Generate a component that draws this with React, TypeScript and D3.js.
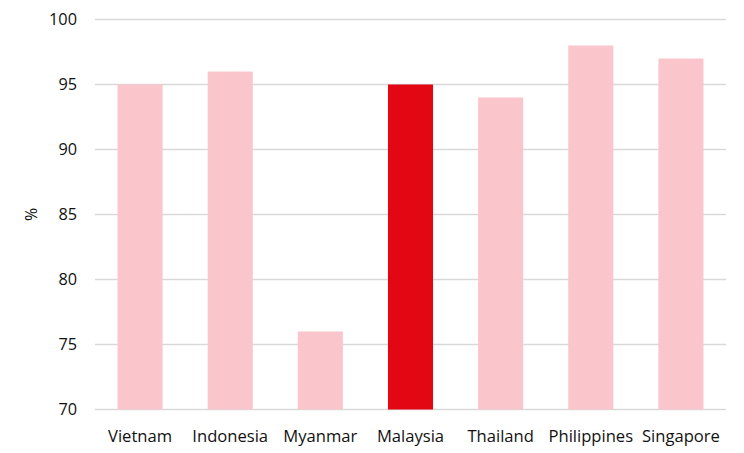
import React from "react";
import * as d3 from "d3";

const categories = ["Vietnam", "Indonesia", "Myanmar", "Malaysia", "Thailand", "Philippines", "Singapore"];
const values = [95, 96, 76, 95, 94, 98, 97];
const highlight = ["Malaysia"];
const yTicks = [70, 75, 80, 85, 90, 95, 100];
const yLabel = "%";

export default function App() {
  const W = 744, H = 453;
  const left = 95, right = 726, top = 19.5, bottom = 409.5;
  const x = d3.scaleBand<string>().domain(categories).range([left, right]).paddingInner(0.5).paddingOuter(0.25);
  const y = d3.scaleLinear().domain([70, 100]).range([bottom, top]);
  const font = "'Open Sans', 'Noto Sans', sans-serif";
  return (
    <svg width={W} height={H} style={{ position: "absolute", left: 0, top: 0, background: "#fff" }}>
      {yTicks.map((t) => (
        <g key={t}>
          <line x1={left} x2={right} y1={y(t)} y2={y(t)} stroke="#d9d9d9" strokeWidth={1.3} />
          <text x={77} y={y(t)} dy="0.36em" textAnchor="end" fontFamily={font} fontSize={16.3} fill="#111">{t}</text>
        </g>
      ))}
      {categories.map((c, i) => (
        <rect key={c} x={x(c)} width={x.bandwidth()} y={y(values[i])} height={y(70) - y(values[i])}
          fill={highlight.includes(c) ? "#E30613" : "#FAC6CB"} />
      ))}
      {categories.map((c) => (
        <text key={c} x={(x(c) as number) + x.bandwidth() / 2} y={442} textAnchor="middle" fontFamily={font} fontSize={16.6} fill="#111">{c}</text>
      ))}
      <text transform={`translate(37,${(top + bottom) / 2}) rotate(-90)`} textAnchor="middle" fontFamily={font} fontSize={16} fill="#111">{yLabel}</text>
    </svg>
  );
}
